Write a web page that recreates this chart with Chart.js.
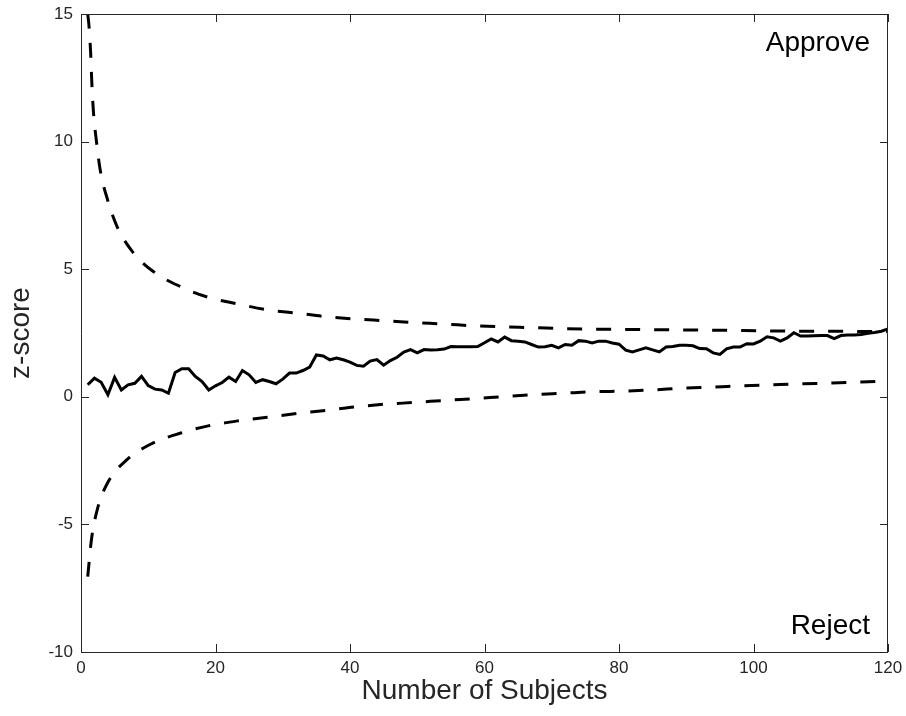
<!DOCTYPE html>
<html>
<head>
<meta charset="utf-8">
<script src="https://cdn.jsdelivr.net/npm/chart.js@4/dist/chart.umd.min.js"></script>
<style>
  body { margin: 0; background: #fff; }
  canvas { display: block; }
</style>
</head>
<body>
<canvas id="seqChart" width="906" height="716"></canvas>
<script>
// observed z-score after each subject (n = 1..120)
const subjectZ = [
  0.47, 0.73, 0.57, 0.08, 0.76, 0.27, 0.47, 0.53, 0.80, 0.44,
  0.30, 0.27, 0.14, 0.95, 1.10, 1.10, 0.80, 0.60, 0.27, 0.43,
  0.56, 0.77, 0.60, 1.03, 0.86, 0.56, 0.67, 0.60, 0.51, 0.69,
  0.93, 0.93, 1.03, 1.16, 1.64, 1.60, 1.45, 1.52, 1.45, 1.36,
  1.23, 1.20, 1.40, 1.46, 1.24, 1.42, 1.55, 1.75, 1.85, 1.72,
  1.85, 1.83, 1.84, 1.87, 1.97, 1.96, 1.96, 1.96, 1.97, 2.12,
  2.27, 2.15, 2.34, 2.20, 2.18, 2.15, 2.05, 1.95, 1.96, 2.02,
  1.92, 2.05, 2.02, 2.20, 2.18, 2.11, 2.18, 2.18, 2.11, 2.06,
  1.83, 1.76, 1.84, 1.92, 1.84, 1.76, 1.95, 1.97, 2.02, 2.02,
  2.00, 1.89, 1.88, 1.72, 1.66, 1.88, 1.95, 1.95, 2.08, 2.07,
  2.18, 2.35, 2.31, 2.18, 2.31, 2.51, 2.38, 2.38, 2.39, 2.40,
  2.40, 2.28, 2.40, 2.42, 2.42, 2.44, 2.49, 2.52, 2.57, 2.66
];
const subjectN = subjectZ.map((_, i) => i + 1);

// approve boundary
const upperN = [1.0, 1.2, 1.43, 1.61, 1.84, 2.3, 2.87, 3.94, 5.35, 7.73, 10.85, 14.7, 18.9, 23.3, 27.7,
  32.1, 36.4, 40.6, 45.2, 49.6, 54.1, 58.5, 63, 67.3, 71.8, 76.2, 80.8, 85, 89.5, 93.9, 98.4,
  102.8, 107.3, 111.7, 116, 120];
const upperZ = [15.0, 14.5, 13.5, 12.3, 11.2, 10.0, 8.87, 7.73, 6.68, 5.66, 4.89, 4.33, 3.90, 3.64, 3.41,
  3.28, 3.14, 3.05, 2.98, 2.91, 2.85, 2.78, 2.74, 2.71, 2.67, 2.65, 2.64, 2.63, 2.62, 2.61, 2.60,
  2.58, 2.57, 2.57, 2.56, 2.55];

// reject boundary
const lowerN = [1, 1.56, 2.42, 4.0, 6.8, 10.5, 14.7, 18.9, 23.4, 27.7, 32.2, 36.4, 40.6, 45.2, 49.7,
  54.1, 58.5, 63, 67.3, 71.8, 76.2, 80.6, 85, 89.6, 93.9, 98.4, 102.8, 107.3, 111.7, 116, 120];
const lowerZ = [-7.05, -5.58, -4.42, -3.35, -2.47, -1.84, -1.43, -1.14, -0.94, -0.80, -0.65, -0.53, -0.40, -0.29, -0.22,
  -0.14, -0.07, 0.01, 0.08, 0.14, 0.20, 0.22, 0.27, 0.34, 0.38, 0.43, 0.47, 0.51, 0.54, 0.58, 0.61];

const xTicks = [0, 20, 40, 60, 80, 100, 120];
const yTicks = [-10, -5, 0, 5, 10, 15];

const FONT = "'Liberation Sans', Arial, Helvetica, sans-serif";
const INK = '#262626';

function pts(xs, ys) {
  return xs.map((v, i) => ({ x: v, y: ys[i] }));
}

// box round the plot, inward tick marks, and the two region labels
const framePlugin = {
  id: 'framePlugin',
  afterDatasetsDraw(chart) {
    const { ctx, chartArea: a, scales } = chart;
    const sx = scales.x, sy = scales.y;
    const tl = 8;
    ctx.save();
    ctx.strokeStyle = INK;
    ctx.lineWidth = 1;
    ctx.beginPath();
    ctx.rect(Math.round(a.left) + 0.5, Math.round(a.top) + 0.5,
      Math.round(a.right - a.left) - 1, Math.round(a.bottom - a.top));
    xTicks.forEach(v => {
      const px = Math.round(sx.getPixelForValue(v)) + 0.5;
      ctx.moveTo(px, a.bottom); ctx.lineTo(px, a.bottom - tl);
      ctx.moveTo(px, a.top); ctx.lineTo(px, a.top + tl);
    });
    yTicks.forEach(v => {
      const py = Math.round(sy.getPixelForValue(v)) + 0.5;
      ctx.moveTo(a.left, py); ctx.lineTo(a.left + tl, py);
      ctx.moveTo(a.right, py); ctx.lineTo(a.right - tl, py);
    });
    ctx.stroke();

    ctx.fillStyle = '#000';
    ctx.font = '28px ' + FONT;
    ctx.textAlign = 'right';
    ctx.textBaseline = 'alphabetic';
    ctx.fillText('Approve', a.right - 18, a.top + 37);
    ctx.fillText('Reject', a.right - 18, a.bottom - 18);
    ctx.restore();
  }
};

const ctx = document.getElementById('seqChart').getContext('2d');
new Chart(ctx, {
  type: 'line',
  data: {
    datasets: [
      {
        label: 'z-score',
        data: pts(subjectN, subjectZ),
        borderColor: '#000',
        borderWidth: 3,
        pointRadius: 0,
        tension: 0
      },
      {
        label: 'Approve',
        data: pts(upperN, upperZ),
        borderColor: '#000',
        borderWidth: 3,
        borderDash: [15, 14],
        pointRadius: 0,
        cubicInterpolationMode: 'monotone'
      },
      {
        label: 'Reject',
        data: pts(lowerN, lowerZ),
        borderColor: '#000',
        borderWidth: 3,
        borderDash: [15, 14],
        pointRadius: 0,
        cubicInterpolationMode: 'monotone'
      }
    ]
  },
  options: {
    responsive: false,
    animation: false,
    layout: { padding: { top: 14, right: 18, left: 0, bottom: 0 } },
    plugins: {
      legend: { display: false },
      tooltip: { enabled: false }
    },
    scales: {
      x: {
        type: 'linear',
        min: 0,
        max: 120,
        afterFit: s => { s.height = 64; s.paddingLeft = 0; s.paddingRight = 0; },
        afterBuildTicks: s => { s.ticks = xTicks.map(v => ({ value: v })); },
        grid: { drawOnChartArea: false, drawTicks: false },
        border: { display: false },
        ticks: { color: INK, font: { family: FONT, size: 17 }, padding: 6, maxRotation: 0 },
        title: {
          display: true,
          text: 'Number of Subjects',
          color: INK,
          font: { family: FONT, size: 28 },
          padding: { top: 0, bottom: 8 }
        }
      },
      y: {
        type: 'linear',
        min: -10,
        max: 15,
        afterFit: s => { s.width = 81; s.paddingTop = 0; s.paddingBottom = 0; },
        afterBuildTicks: s => { s.ticks = yTicks.map(v => ({ value: v })); },
        grid: { drawOnChartArea: false, drawTicks: false },
        border: { display: false },
        ticks: { color: INK, font: { family: FONT, size: 17 }, padding: 8 },
        title: {
          display: true,
          text: 'z-score',
          color: INK,
          font: { family: FONT, size: 28 },
          padding: { top: 4, bottom: 0 }
        }
      }
    }
  },
  plugins: [framePlugin]
});
</script>
</body>
</html>
